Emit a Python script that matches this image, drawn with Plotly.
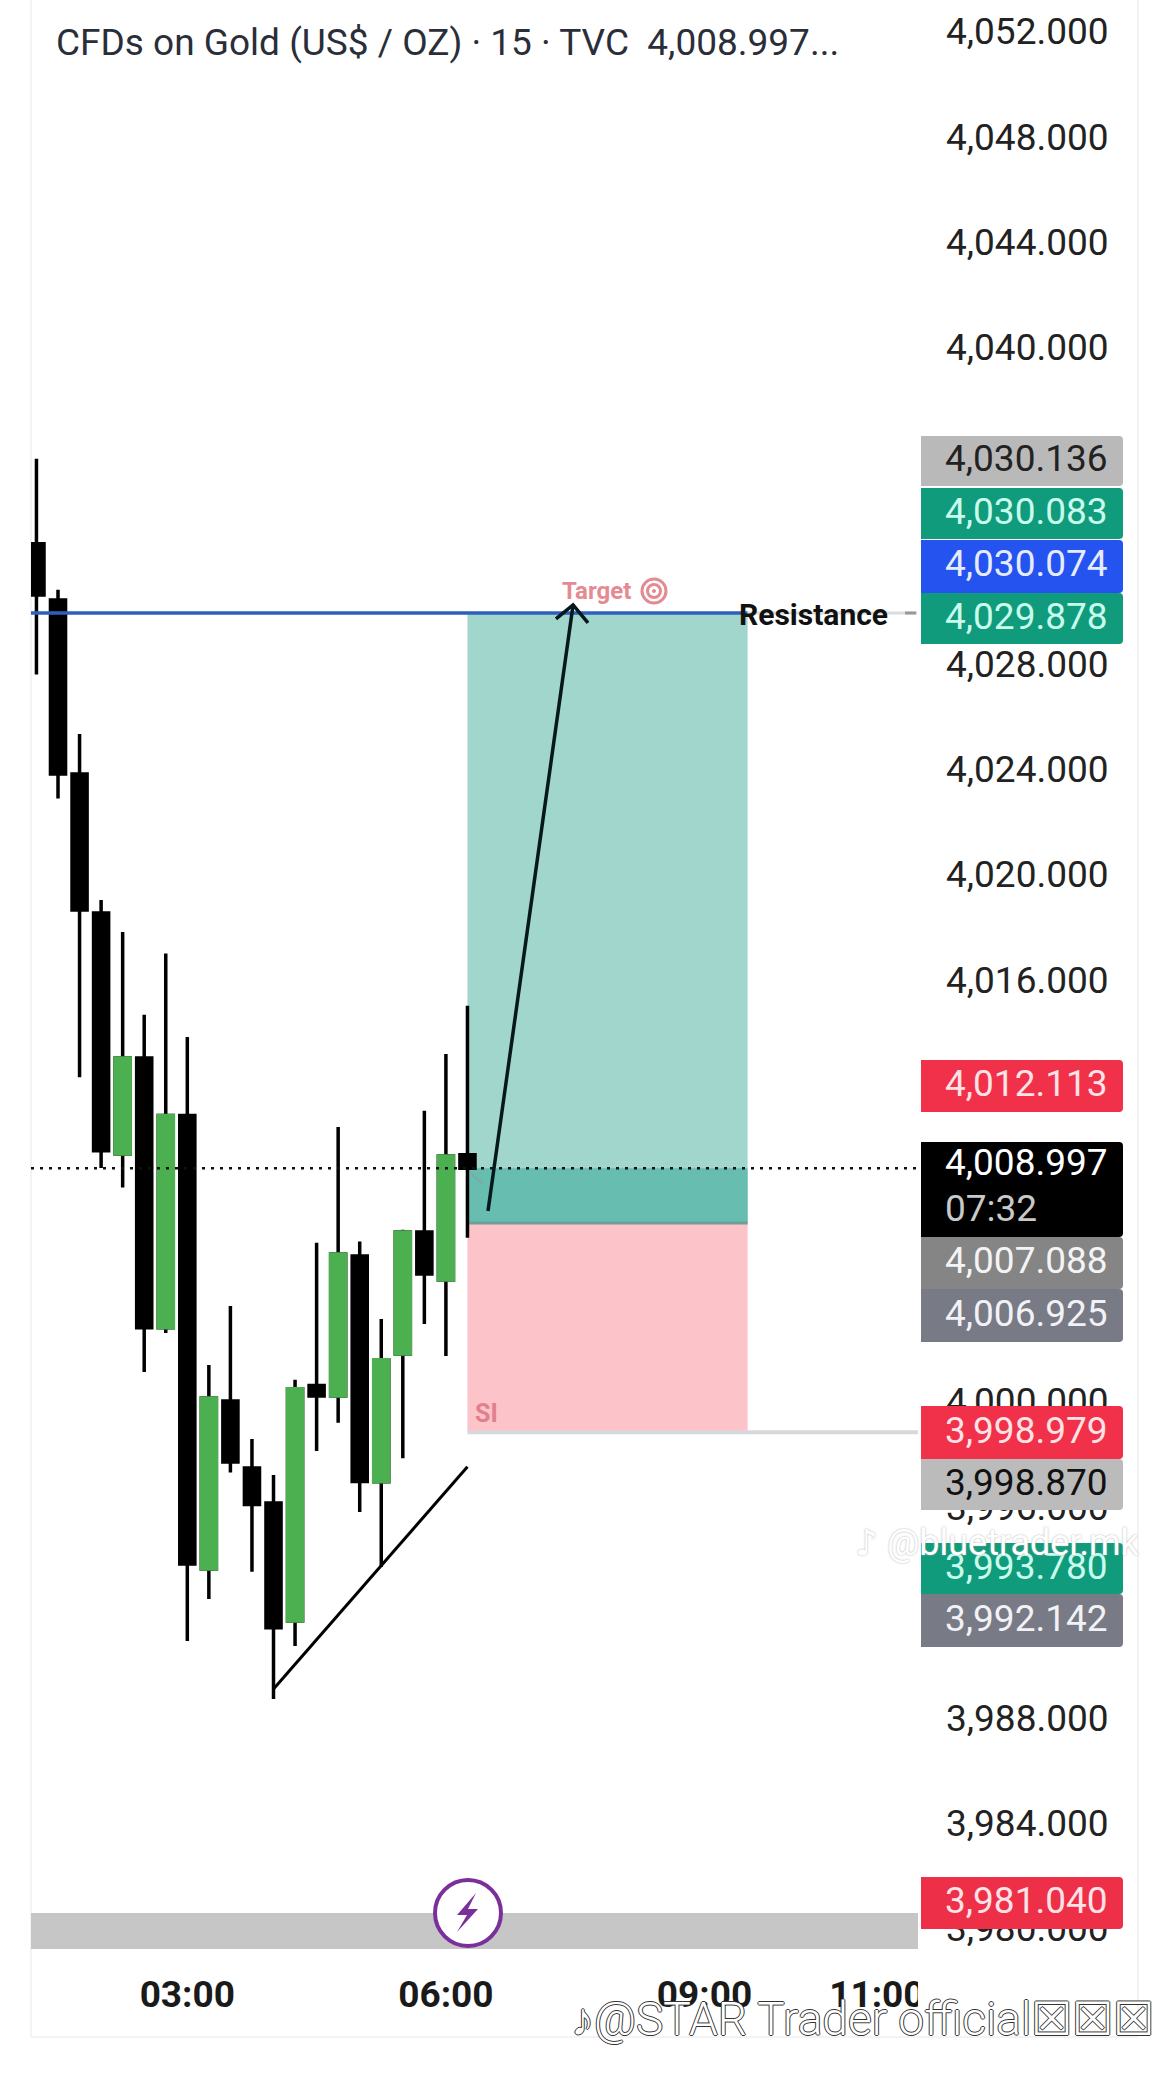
import plotly.graph_objects as go

times = ["01:15","01:30","01:45","02:00","02:15","02:30","02:45","03:00","03:15","03:30","03:45",
         "04:00","04:15","04:30","04:45","05:00","05:15","05:30","05:45","06:00","06:15"]
opens  = [4032.70,4030.57,4023.96,4018.69,4009.54,4013.19,4002.95,4011.00,3993.79,4000.17,3997.63,
          3996.30,3991.82,4000.76,4000.36,4005.67,3997.10,4001.95,4006.58,4004.76,4009.51]
highs  = [4035.93,4030.96,4025.48,4019.18,4017.97,4014.83,4017.15,4013.98,4001.53,4003.77,3998.73,
          3997.36,4000.97,4006.17,4010.57,4006.22,4003.28,4006.67,4011.18,4013.34,4015.17]
lows   = [4027.74,4023.03,4012.46,4009.01,4008.27,4001.27,4002.75,3991.06,3992.65,3997.45,3993.69,
          3988.86,3990.87,3998.27,3999.34,3995.96,3993.87,3998.00,4003.09,4001.88,4006.36]
closes = [4030.76,4023.96,4018.80,4009.67,4013.19,4002.95,4011.00,3993.98,4000.28,3997.85,3996.24,
          3991.56,4000.63,4000.36,4005.75,3997.11,4001.73,4006.58,4004.99,4009.47,4008.997]

y_ticks = [4052 - 4*i for i in range(19)]
x_tick_times = ["03:00", "06:00", "09:00", "11:00"]

last_price = 4008.997
resistance = 4030.074
entry = 4006.925
stop = 3998.979
box_start, box_end = "06:15", "09:30"

trend_times = ["04:00", "06:15"]
trend_prices = [3989.24, 3997.67]
arrow_times = ["06:29:18", "07:28:30"]
arrow_prices = [4007.38, 4030.38]
head_times = ["07:16:36", "07:28:30", "07:38:54"]
head_prices = [4029.85, 4030.38, 4029.70]

tag_labels = ["4,030.136","4,030.083","4,030.074","4,029.878","4,012.113","4,008.997","4,007.088",
              "4,006.925","3,998.979","3,998.870","3,993.780","3,992.142","3,981.040"]
tag_fills = ["#b9b9b9","#0f9b7c","#2453ef","#0f9b7c","#f1304a","#000000","#858585",
             "#787a85","#f1304a","#bbbbbb","#0f9b7c","#787a85","#ee2f48"]
tag_text = ["#222222","#c9fbec","#e6ecff","#c9fbec","#fde2e6","#ffffff","#f4f4f4",
            "#f2f2f6","#fde2e6","#111111","#c9fbec","#f2f2f6","#fde2e6"]
tag_tops = [436,488,540,593,1060,1142,1237,1289,1406,1459,1543,1594,1877]
tag_bots = [486,539,593,644,1112,1237,1289,1342,1459,1510,1594,1647,1929]

L, R, B = 31, 918, 1949
def tm(s):
    return "2025-10-28 " + (s if s.count(":") == 2 else s + ":00")
def X(x):
    return (x - L) / (R - L)
def Y(y):
    return 1 - y / B

xs = [tm(t) for t in times]
green = [i for i in range(len(times)) if closes[i] > opens[i]]

fig = go.Figure()
# wicks and dark bodies
fig.add_trace(go.Candlestick(
    x=xs, open=opens, high=highs, low=lows, close=closes, whiskerwidth=0,
    increasing=dict(line=dict(color="#000000", width=3.5), fillcolor="#000000"),
    decreasing=dict(line=dict(color="#000000", width=3.5), fillcolor="#000000"),
    hoverinfo="skip", showlegend=False))
# green bodies over the wicks
fig.add_trace(go.Candlestick(
    x=[xs[i] for i in green],
    open=[opens[i] for i in green], close=[closes[i] for i in green],
    high=[closes[i] for i in green], low=[opens[i] for i in green], whiskerwidth=0,
    increasing=dict(line=dict(color="#4caf50", width=3.5), fillcolor="#4caf50"),
    hoverinfo="skip", showlegend=False))

def line_trace(x, y, color, width, dash="solid"):
    fig.add_trace(go.Scatter(x=x, y=y, mode="lines", line=dict(color=color, width=width, dash=dash),
                             hoverinfo="skip", showlegend=False))

line_trace([tm("01:11:12"), tm(box_end)], [resistance, resistance], "#2f5fbe", 3.5)
line_trace([tm(box_end), tm("11:28:00")], [resistance, resistance], "#dcdcdc", 3)
line_trace([tm(box_start), tm("11:28:36")], [stop, stop], "#d8d8dc", 4)
line_trace([tm("01:11:12"), tm("11:28:00")], [last_price, last_price], "#111111", 2.5, "3px,6px")
line_trace([tm(t) for t in trend_times], trend_prices, "#000000", 3)
line_trace([tm(t) for t in arrow_times], arrow_prices, "#06181c", 3.5)
line_trace([tm(t) for t in head_times], head_prices, "#06181c", 3.5)
line_trace([tm("06:17:30"), tm("06:26:00")], [4008.80, 4008.40], "#7fa8a4", 2)

shapes = []
# position tool
for y0, y1, col in [(entry, resistance, "#a0d6cc"), (entry, last_price, "#66bdb0"), (stop, entry, "#fcc3c9")]:
    shapes.append(dict(type="rect", xref="x", yref="y", x0=tm(box_start), x1=tm(box_end), y0=y0, y1=y1,
                       fillcolor=col, line_width=0, layer="below"))
shapes.append(dict(type="line", xref="x", yref="y", x0=tm(box_start), x1=tm(box_end), y0=entry, y1=entry,
                   line=dict(color="#6f9f9a", width=3), layer="below"))

# frame lines
for x in (31, 1138):
    shapes.append(dict(type="line", xref="paper", yref="paper", x0=X(x), x1=X(x), y0=Y(0), y1=Y(2037),
                       line=dict(color="#f3f3f3", width=2), layer="below"))
shapes.append(dict(type="line", xref="paper", yref="paper", x0=X(31), x1=X(1138), y0=Y(2037), y1=Y(2037),
                   line=dict(color="#f3f3f3", width=2), layer="below"))

# covers the end of the last time label
shapes.append(dict(type="rect", xref="paper", yref="paper", x0=X(R), x1=X(1000), y0=Y(1960), y1=Y(2030),
                   fillcolor="white", line_width=0))
# grey band and badge
shapes.append(dict(type="rect", xref="paper", yref="paper", x0=0, x1=1, y0=Y(1949), y1=Y(1913),
                   fillcolor="#c6c6c6", line_width=0))
shapes.append(dict(type="circle", xref="paper", yref="paper", x0=X(435), x1=X(501), y0=Y(1946), y1=Y(1880),
                   fillcolor="#ffffff", line=dict(color="#7a2f9b", width=4)))
bolt = [(476,1893),(457,1915),(467,1915),(457,1932),(478,1909),(468,1909)]
shapes.append(dict(type="path", xref="paper", yref="paper",
                   path="M " + " L ".join(f"{X(a)} {Y(b)}" for a, b in bolt) + " Z",
                   fillcolor="#7a2f9b", line_width=0))
# target icon
for r, fill, lw in [(12, "rgba(0,0,0,0)", 3), (6.5, "rgba(0,0,0,0)", 3), (1.5, "#e58a92", 1)]:
    shapes.append(dict(type="circle", xref="paper", yref="paper", x0=X(654-r), x1=X(654+r), y0=Y(591+r), y1=Y(591-r),
                       fillcolor=fill, line=dict(color="#e58a92", width=lw)))
shapes.append(dict(type="line", xref="paper", yref="paper", x0=X(905), x1=X(916), y0=Y(613), y1=Y(613),
                   line=dict(color="#999999", width=3)))
# price tags
def round_rect(x0, y0, x1, y1, r=4):
    out = f"M {X(x0)} {Y(y0)} L {X(x0)} {Y(y1)} L {X(x1-r)} {Y(y1)} Q {X(x1)} {Y(y1)} {X(x1)} {Y(y1-r)} "
    out += f"L {X(x1)} {Y(y0+r)} Q {X(x1)} {Y(y0)} {X(x1-r)} {Y(y0)} Z"
    return out
ann = []
for lab, f, c, t, b in zip(tag_labels, tag_fills, tag_text, tag_tops, tag_bots):
    shapes.append(dict(type="path", xref="paper", yref="paper", path=round_rect(921, t, 1123, b),
                       fillcolor=f, line_width=0))
    yc = 1164.5 if lab == "4,008.997" else (t + b) / 2
    ann.append(dict(xref="paper", yref="paper", x=X(1110), y=Y(yc - 2.5), text=lab, showarrow=False, xanchor="right",
                    yanchor="middle", font=dict(family="Roboto", size=37, color=c)))

def note(x, y, text, size, color, anchor="left", weight=400, family="Roboto", shadow=None):
    f = dict(family=family, size=size, color=color, weight=weight)
    if shadow:
        f["shadow"] = shadow
    ann.append(dict(xref="paper", yref="paper", x=X(x), y=Y(y), text=text, showarrow=False, xanchor=anchor,
                    yanchor="middle", font=f, xshift=0))

note(943, 1208, "07:32", 37, "#c9c9c9")
note(54, 42, "CFDs on Gold (US$ / OZ) · 15 · TVC  4,008.997...", 37, "#2a2e39")
note(737, 614, "Resistance", 30, "#111111", weight=700)
note(560, 591, "Target", 24, "#e58a92", weight=700)
note(473, 1413, "SI", 25, "#e0808c", weight=700)
note(853, 1543, "♪ @bluetrader.mk", 36, "#ffffff", family="Roboto, DejaVu Sans", shadow="0 0 2px #aaaaaa")
note(569, 2019, "♪@STAR Trader official☒☒☒", 46, "#ffffff", weight=300, family="Roboto, DejaVu Sans",
     shadow="-1px 0 #333, 1px 0 #333, 0 -1px #333, 0 1px #333")

fig.update_layout(
    width=1170, height=2080, margin=dict(l=L, r=1170-R, t=0, b=2080-B, autoexpand=False),
    paper_bgcolor="white", plot_bgcolor="white", showlegend=False, boxgap=0,
    shapes=shapes, annotations=ann,
    xaxis=dict(type="date", range=[tm("01:11:12"), tm("11:28:36")], rangeslider=dict(visible=False),
               tickmode="array", tickvals=[tm(t) for t in x_tick_times], ticktext=x_tick_times,
               showgrid=False, zeroline=False, showline=False, ticks="", ticklabelstandoff=20,
               tickfont=dict(family="Roboto", size=37, color="#1a1a1a", weight=700)),
    yaxis=dict(side="right", range=[3979.37, 4053.34], tickmode="array", tickvals=y_ticks,
               ticktext=[f"{v:,.3f}" for v in y_ticks], showgrid=False, zeroline=False, showline=False,
               ticks="", ticklabelstandoff=27, ticklabelshift=-4,
               tickfont=dict(family="Roboto", size=37, color="#222222")),
)
fig.write_html("out.html", config=dict(displayModeBar=False),
               post_script="document.body.style.margin='0';")
